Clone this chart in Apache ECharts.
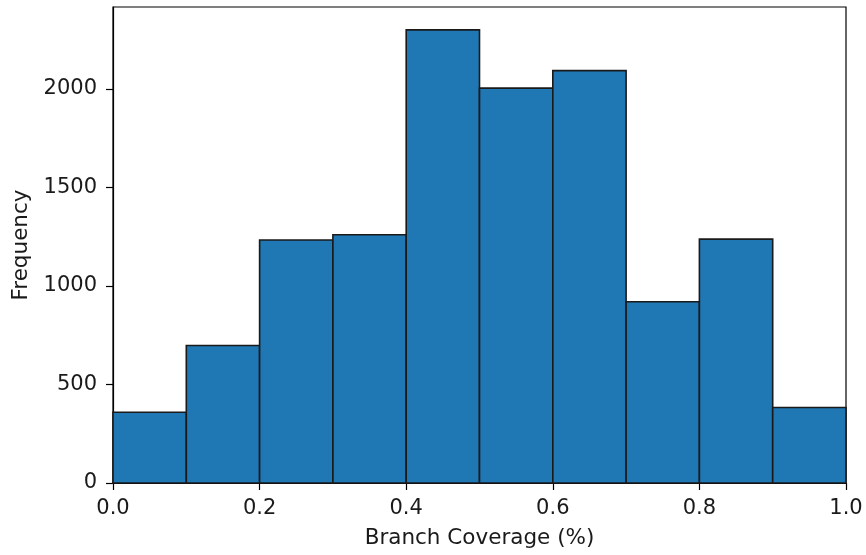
<!DOCTYPE html>
<html><head><meta charset="utf-8">
<script src="https://cdn.jsdelivr.net/npm/echarts@6/dist/echarts.min.js"></script>
<style>html,body{margin:0;padding:0;background:#fff}#c{width:866px;height:555px}</style>
</head><body><div id="c"></div>
<script>
const binEdges = [0.0,0.1,0.2,0.3,0.4,0.5,0.6,0.7,0.8,0.9,1.0];
const counts = [359,698,1233,1260,2300,2004,2093,920,1238,383];
const xTicks = [0.0,0.2,0.4,0.6,0.8,1.0];
const yTicks = [0,500,1000,1500,2000];
const xTitle = 'Branch Coverage (%)';
const yTitle = 'Frequency';

const data = counts.map((c,i)=>[binEdges[i],binEdges[i+1],c]);
const font = 'DejaVu Sans';
const chart = echarts.init(document.getElementById('c'), null, {renderer:'canvas'});
chart.setOption({
  animation:false,
  backgroundColor:'#fff',
  grid:{left:113,right:20,top:7,bottom:72,outerBoundsMode:'none',containLabel:false,show:true,borderColor:'#000',borderWidth:1.2,backgroundColor:'transparent'},
  xAxis:{type:'value',min:0,max:1,
    name:xTitle,nameLocation:'middle',nameGap:44,
    nameTextStyle:{fontFamily:font,fontSize:21.5,color:'#1a1a1a'},
    axisLine:{show:true,lineStyle:{color:'#000',width:1.2}},
    axisTick:{show:true,length:7,lineStyle:{color:'#000',width:1.2},customValues:xTicks},
    axisLabel:{fontFamily:font,fontSize:21,color:'#1a1a1a',margin:15,customValues:xTicks,formatter:v=>v.toFixed(1)},
    splitLine:{show:false}},
  yAxis:{type:'value',min:0,max:2416,
    name:yTitle,nameLocation:'middle',nameGap:80,
    nameTextStyle:{fontFamily:font,fontSize:21.5,color:'#1a1a1a'},
    axisLine:{show:true,lineStyle:{color:'#000',width:1.2}},
    axisTick:{show:true,length:7,lineStyle:{color:'#000',width:1.2},customValues:yTicks},
    axisLabel:{fontFamily:font,fontSize:21,color:'#1a1a1a',margin:16,customValues:yTicks,formatter:v=>String(v)},
    splitLine:{show:false}},
  series:[{type:'custom',
    renderItem:function(params,api){
      const p0=api.coord([api.value(0),api.value(2)]);
      const p1=api.coord([api.value(1),0]);
      return {type:'rect',shape:{x:p0[0],y:p0[1],width:p1[0]-p0[0],height:p1[1]-p0[1]},
        style:{fill:'#1f77b4',stroke:'#1a1a1a',lineWidth:1.6}};
    },
    encode:{x:[0,1],y:2},
    data:data}]
});
</script></body></html>
